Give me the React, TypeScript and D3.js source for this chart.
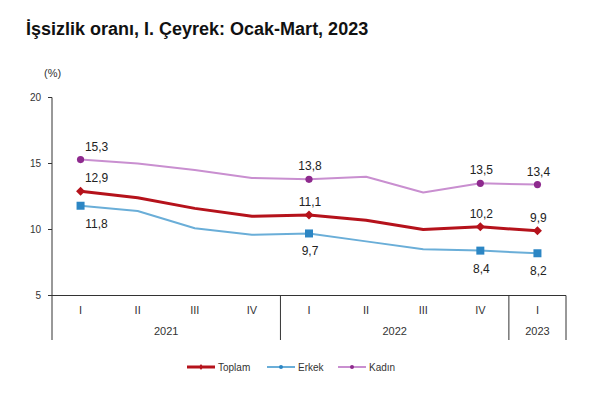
import React from 'react';
import * as d3 from 'd3';

const quarters = ['I', 'II', 'III', 'IV', 'I', 'II', 'III', 'IV', 'I'];
const years = [
  { label: '2021', from: 0, to: 3 },
  { label: '2022', from: 4, to: 7 },
  { label: '2023', from: 8, to: 8 },
];
const toplam = [12.9, 12.4, 11.6, 11.0, 11.1, 10.7, 10.0, 10.2, 9.9];
const erkek = [11.8, 11.4, 10.1, 9.6, 9.7, 9.1, 8.5, 8.4, 8.2];
const kadin = [15.3, 15.0, 14.5, 13.9, 13.8, 14.0, 12.8, 13.5, 13.4];
const labelled = [0, 4, 7, 8];
const yTicks = [5, 10, 15, 20];

const fmt = (v: number) => v.toFixed(1).replace('.', ',');

const App = () => {
  const left = 52;
  const right = 566;
  const top = 97.5;
  const bottom = 295.5;

  const x = d3
    .scaleBand<number>()
    .domain(quarters.map((_, i) => i))
    .range([left, right]);
  const cx = (i: number) => (x(i) as number) + x.bandwidth() / 2;
  const y = d3.scaleLinear().domain([5, 20]).range([bottom, top]);

  const line = d3
    .line<number>()
    .x((_, i) => cx(i))
    .y((d) => y(d));

  const font = 'Liberation Sans, Arial, sans-serif';
  const series = [
    { name: 'Toplam', data: toplam, color: '#b5121b', marker: '#b5121b', width: 3, pos: 'above' },
    { name: 'Erkek', data: erkek, color: '#6aaed8', marker: '#2c86c4', width: 2, pos: 'below' },
    { name: 'Kadın', data: kadin, color: '#c98fd0', marker: '#8e2a8e', width: 2, pos: 'above' },
  ];

  const drawMarker = (name: string, px: number, py: number, color: string, key: string) => {
    if (name === 'Toplam') {
      return (
        <path
          key={key}
          d={`M${px},${py - 4.5}L${px + 4.5},${py}L${px},${py + 4.5}L${px - 4.5},${py}Z`}
          fill={color}
        />
      );
    }
    if (name === 'Erkek') {
      return <rect key={key} x={px - 4} y={py - 4} width={8} height={8} fill={color} />;
    }
    return <circle key={key} cx={px} cy={py} r={3.6} fill={color} />;
  };

  // first labels sit a bit to the right, away from the axis
  const labelDx = (i: number) => (i === 0 ? 16 : 1);

  const boundaries = [4, 8].map((i) => x(i) as number).concat([right]);
  const legend = [
    { s: series[0], lx: 187, tx: 218 },
    { s: series[1], lx: 267, tx: 298 },
    { s: series[2], lx: 338, tx: 369 },
  ];

  return (
    <svg width={600} height={398} style={{ position: 'absolute', left: 0, top: 0, background: '#fff' }}>
      <rect width={600} height={398} fill="#fff" />
      <text x={26} y={35} fontFamily={font} fontSize={18} fontWeight="bold" fill="#111">
        İşsizlik oranı, I. Çeyrek: Ocak-Mart, 2023
      </text>
      <text x={44} y={77} fontFamily={font} fontSize={11} fill="#333">
        (%)
      </text>

      {/* y axis */}
      <line x1={left} x2={left} y1={top} y2={340} stroke="#333" strokeWidth={1} />
      {yTicks.map((t) => (
        <g key={t}>
          <line x1={left - 4} x2={left} y1={y(t)} y2={y(t)} stroke="#333" />
          <text x={41} y={y(t) + 3.5} textAnchor="end" fontFamily={font} fontSize={10} fill="#333">
            {t}
          </text>
        </g>
      ))}

      {/* x axis */}
      <line x1={left} x2={right} y1={bottom} y2={bottom} stroke="#333" />
      {boundaries.map((bx, i) => (
        <line key={i} x1={bx} x2={bx} y1={bottom} y2={340} stroke="#333" />
      ))}
      {quarters.map((q, i) => (
        <text key={i} x={cx(i)} y={314} textAnchor="middle" fontFamily={font} fontSize={11} fill="#333">
          {q}
        </text>
      ))}
      {years.map((yr) => (
        <text
          key={yr.label}
          x={(cx(yr.from) + cx(yr.to)) / 2}
          y={335}
          textAnchor="middle"
          fontFamily={font}
          fontSize={11}
          fill="#333"
        >
          {yr.label}
        </text>
      ))}

      {/* series */}
      {series.map((s) => (
        <g key={s.name}>
          <path d={line(s.data) || ''} fill="none" stroke={s.color} strokeWidth={s.width} strokeLinejoin="round" />
          {labelled.map((i) => drawMarker(s.name, cx(i), y(s.data[i]), s.marker, s.name + i))}
          {labelled.map((i) => (
            <text
              key={'l' + i}
              x={cx(i) + labelDx(i)}
              y={s.pos === 'above' ? y(s.data[i]) - 9 : y(s.data[i]) + 22}
              textAnchor="middle"
              fontFamily={font}
              fontSize={12}
              fill="#222"
            >
              {fmt(s.data[i])}
            </text>
          ))}
        </g>
      ))}

      {/* legend */}
      {legend.map(({ s, lx, tx }) => (
        <g key={s.name}>
          <line x1={lx} x2={lx + 28} y1={367} y2={367} stroke={s.color} strokeWidth={s.width} />
          {s.name === 'Toplam' ? (
            <path d={`M${lx + 14},${364}L${lx + 16},${367}L${lx + 14},${370}L${lx + 12},${367}Z`} fill={s.marker} />
          ) : (
            <circle cx={lx + 14} cy={367} r={2} fill={s.marker} />
          )}
          <text x={tx} y={370.5} fontFamily={font} fontSize={10} fill="#333">
            {s.name}
          </text>
        </g>
      ))}
    </svg>
  );
};

export default App;
